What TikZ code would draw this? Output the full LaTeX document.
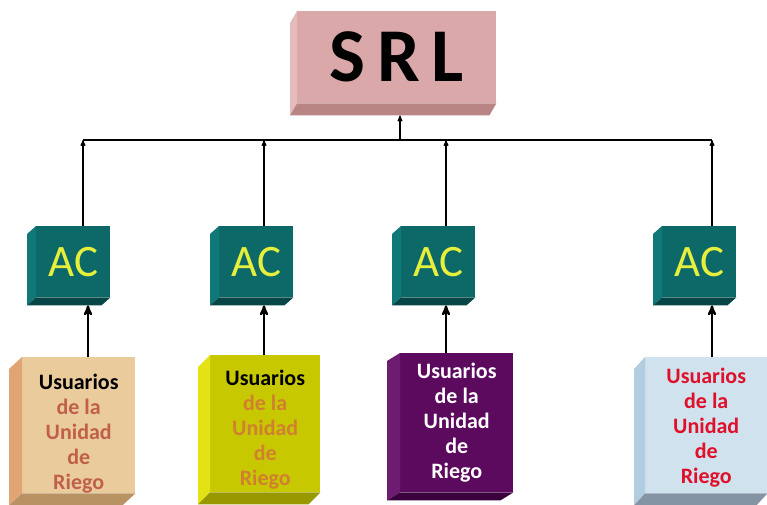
\documentclass[tikz,border=0pt]{standalone}
\usepackage{fontspec}
\setmainfont{Carlito}
\usetikzlibrary{arrows}
\usetikzlibrary{calc}
\definecolor{srlface}{HTML}{DAA8A8}
\definecolor{srlside}{HTML}{E4BCBC}
\definecolor{srlbottom}{HTML}{B88484}
\definecolor{acface}{HTML}{0D6868}
\definecolor{acside}{HTML}{117878}
\definecolor{acbottom}{HTML}{074646}
\definecolor{actext}{HTML}{E6F03C}
\definecolor{woodface}{HTML}{EACB9C}
\definecolor{woodside}{HTML}{E2A472}
\definecolor{woodbottom}{HTML}{B89262}
\definecolor{woodtext}{HTML}{C0604A}
\definecolor{oliveface}{HTML}{C8C800}
\definecolor{oliveside}{HTML}{E2E214}
\definecolor{olivebottom}{HTML}{989800}
\definecolor{olivetext}{HTML}{D08030}
\definecolor{plumface}{HTML}{5C0A5E}
\definecolor{plumside}{HTML}{6E1C70}
\definecolor{plumbottom}{HTML}{3A003C}
\definecolor{iceface}{HTML}{CFE2EE}
\definecolor{iceside}{HTML}{B2CCE0}
\definecolor{icebottom}{HTML}{8494A4}
\definecolor{icetext}{HTML}{E0102A}
\tikzset{
  face/.style={anchor=north west, inner sep=0, align=center},
  srlbox/.style={face, fill=srlface, font=\fontsize{76}{76}\selectfont\bfseries},
  acbox/.style={face, fill=acface, text=actext,
    minimum width=74pt, minimum height=71pt, font=\fontsize{45}{45}\selectfont},
  userbox/.style={face, font=\fontsize{22}{25}\selectfont\bfseries},
  busline/.style={->,>=stealth', line width=1.1pt},
  feedline/.style={->,>=stealth', line width=2.2pt}
}
% side and bottom faces of a bevel box
\newcommand\bevel[5]{%
  \fill[#4] (#1.north west) -- (#1.south west) -- ++(-#2,#3)
    -- ($(#1.north west)+(-#2,#3)$) -- cycle;
  \fill[#5] (#1.south west) -- (#1.south east) -- ++(-#2,#3)
    -- ($(#1.south west)+(-#2,#3)$) -- cycle;}
% #1 colour of the lower lines, #2 strut that lowers the text
\newcommand\usertext[2]{\rule{0pt}{#2}Usuarios\\\textcolor{#1}{de la}\\\textcolor{#1}{Unidad}\\\textcolor{#1}{de}\\\textcolor{#1}{Riego}}

\begin{document}
\begin{tikzpicture}[x=1pt,y=-1pt]
  \useasboundingbox (0,0) rectangle (767,504);

  % top box
  \node[srlbox, minimum width=199pt, minimum height=92pt] (srl) at (297,11)
    {S\hspace{12pt}R\hspace{12pt}L};
  \bevel{srl}{7}{12}{srlside}{srlbottom}

  % AC boxes
  \node[acbox] (ac1) at (36,226) {AC};
  \node[acbox] (ac2) at (219,226) {AC};
  \node[acbox] (ac3) at (401,226) {AC};
  \node[acbox] (ac4) at (662,226) {AC};
  \foreach \n in {ac1,ac2,ac3,ac4}{
    \bevel{\n}{9}{8}{acside}{acbottom}
  }

  % user boxes
  \node[userbox, fill=woodface, minimum width=113pt, minimum height=136pt] (u1) at (22,357)
    {\usertext{woodtext}{32pt}};
  \node[userbox, fill=oliveface, minimum width=110pt, minimum height=137pt] (u2) at (210,355)
    {\usertext{olivetext}{28pt}};
  \node[userbox, fill=plumface, text=white, minimum width=113pt, minimum height=139pt] (u3) at (400,353)
    {\usertext{white}{0pt}};
  \node[userbox, fill=iceface, text=icetext, minimum width=122pt, minimum height=136pt] (u4) at (645,357)
    {\usertext{icetext}{20pt}};
  \bevel{u1}{13}{12}{woodside}{woodbottom}
  \bevel{u2}{12}{12}{oliveside}{olivebottom}
  \bevel{u3}{13}{8}{plumside}{plumbottom}
  \bevel{u4}{11}{12}{iceside}{icebottom}

  % bus
  \coordinate (top) at (400,140);
  \coordinate (b1) at (83,140);
  \coordinate (b2) at (264,140);
  \coordinate (b3) at (446,140);
  \coordinate (b4) at (712,140);
  \coordinate (f1) at (88,140);
  \draw[line width=1.1pt] (b1) -- (b4);
  \draw[busline] (top) -- ($(srl.south -| top)+(0,12)$);
  \draw[busline] (ac1.north -| b1) -- (b1);
  \draw[busline] (ac2.north -| b2) -- (b2);
  \draw[busline] (ac3.north -| b3) -- (b3);
  \draw[busline] (ac4.north -| b4) -- (b4);

  % feeds
  \draw[feedline] (u1.north -| f1) -- ($(ac1.south -| f1)+(0,8)$);
  \draw[feedline] (u2.north -| b2) -- ($(ac2.south -| b2)+(0,8)$);
  \draw[feedline] (u3.north -| b3) -- ($(ac3.south -| b3)+(0,8)$);
  \draw[feedline] (u4.north -| b4) -- ($(ac4.south -| b4)+(0,8)$);
\end{tikzpicture}
\end{document}
